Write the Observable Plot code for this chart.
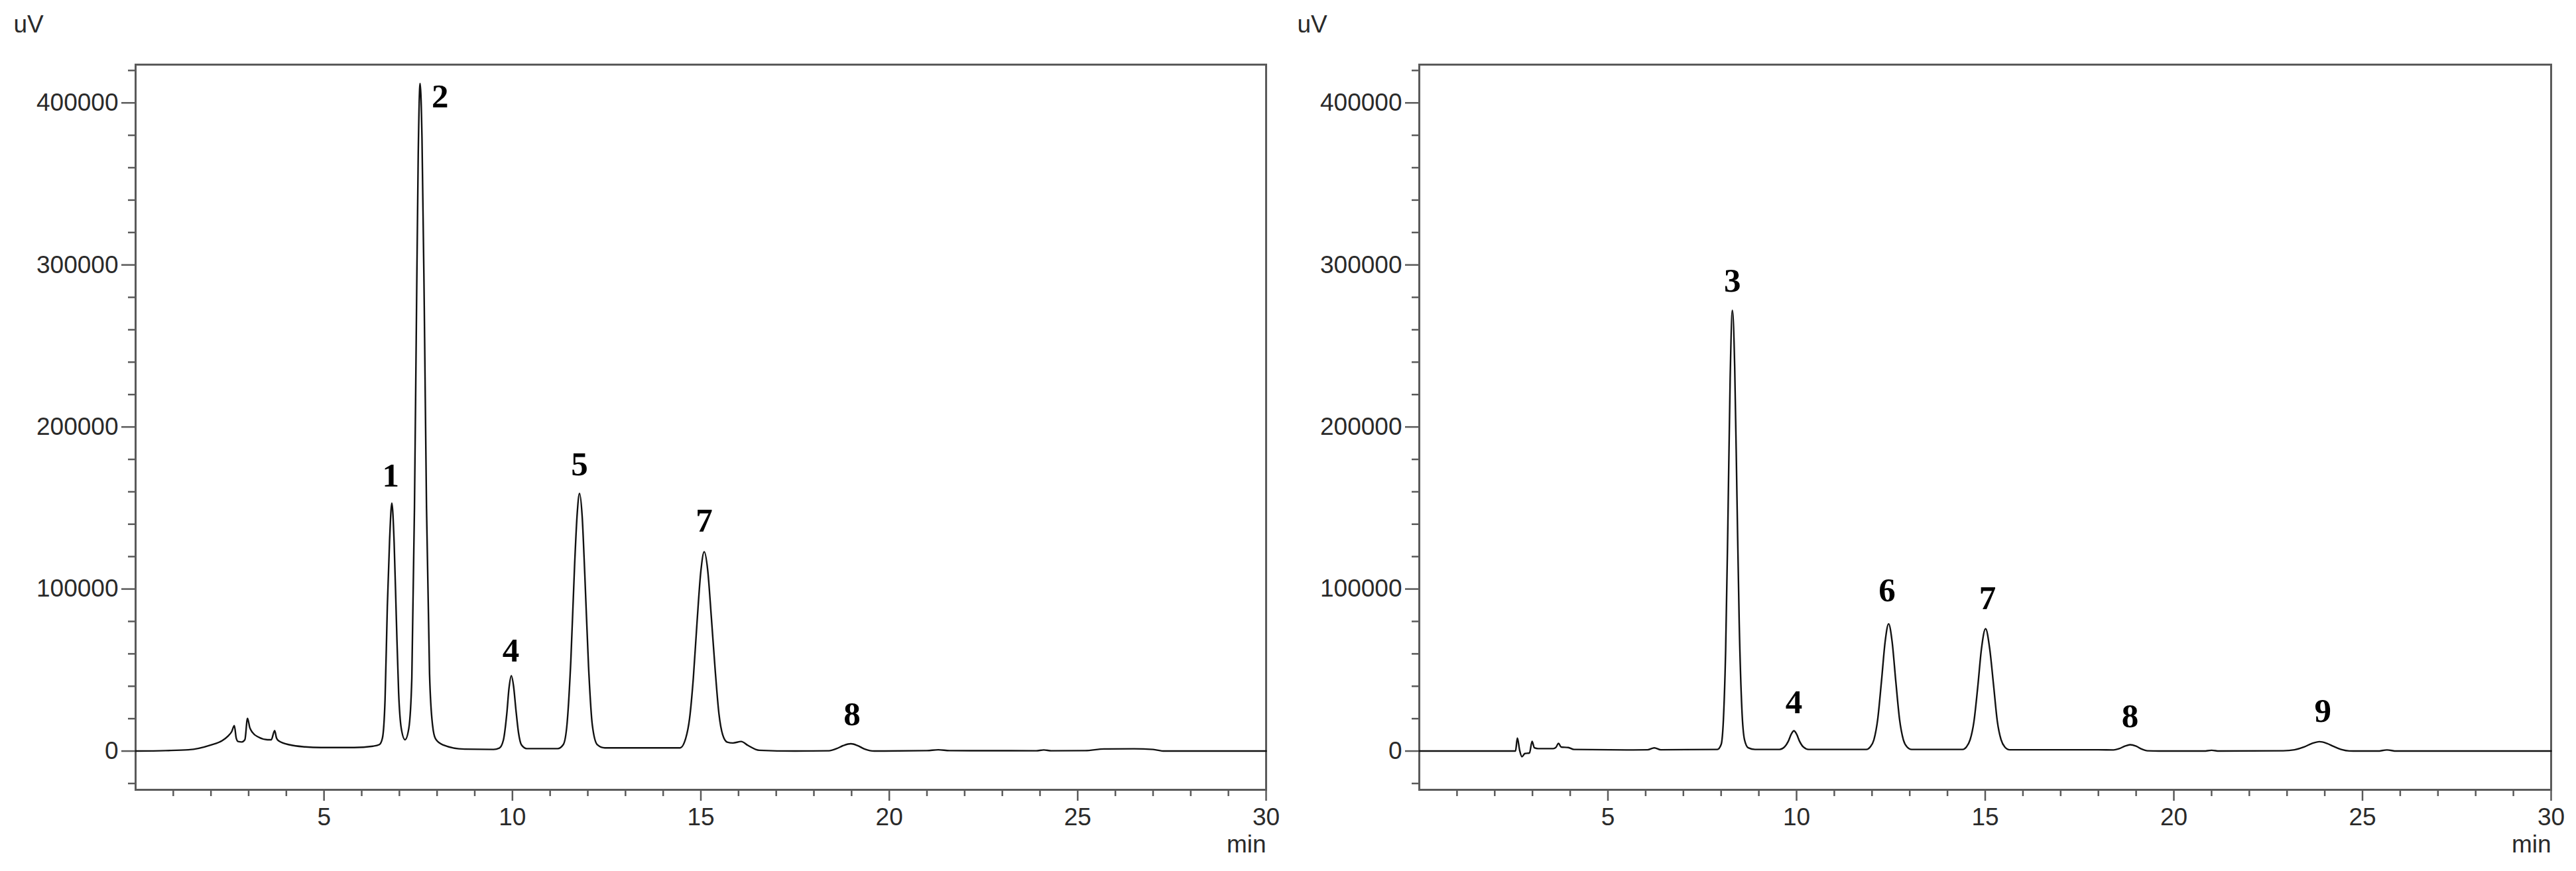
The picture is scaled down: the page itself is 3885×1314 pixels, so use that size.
<!DOCTYPE html>
<html>
<head>
<meta charset="utf-8">
<script src="https://cdn.jsdelivr.net/npm/d3@7"></script>
<script src="https://cdn.jsdelivr.net/npm/@observablehq/plot@0.6"></script>
<style>
  html, body { margin: 0; padding: 0; background: #fff; }
  #wrap { display: flex; width: 3885px; height: 1314px; background: #fff; }
  #wrap svg { display: block; }
</style>
</head>
<body>
<div id="wrap"></div>
<script>
// ---------- Data ----------
// Left chromatogram: retention time (min) and detector signal (uV)
const leftTime = [0.00, 0.80, 1.40, 2.00, 2.30, 2.45, 2.55, 2.62, 2.67, 2.72, 2.82, 2.90, 2.97, 3.03, 3.10, 3.27, 3.50, 3.60, 3.69, 3.74, 3.80, 4.10, 4.50, 4.92, 5.80, 6.30, 6.47, 6.55, 6.62, 6.68, 6.74, 6.80, 6.86, 6.92, 6.98, 7.05, 7.15, 7.25, 7.33, 7.40, 7.45, 7.50, 7.55, 7.60, 7.66, 7.72, 7.80, 7.88, 7.96, 8.15, 8.73, 9.50, 9.65, 9.76, 9.85, 9.91, 9.97, 10.03, 10.09, 10.16, 10.24, 10.38, 11.20, 11.35, 11.45, 11.55, 11.65, 11.72, 11.78, 11.85, 11.92, 12.02, 12.12, 12.25, 12.45, 14.45, 14.60, 14.70, 14.80, 14.90, 15.00, 15.09, 15.18, 15.28, 15.38, 15.48, 15.58, 15.70, 15.85, 16.07, 16.25, 16.55, 17.50, 18.40, 18.60, 18.80, 18.98, 19.15, 19.35, 19.60, 21.00, 21.30, 21.60, 23.90, 24.10, 24.30, 25.20, 25.70, 26.50, 27.00, 27.30, 30.00];
const leftSignal = [0, 300, 800, 3800, 6500, 9200, 12000, 15700, 8000, 5900, 5600, 7000, 20200, 14500, 11500, 8500, 7000, 7000, 12600, 8000, 6300, 3800, 2600, 2200, 2200, 3000, 4000, 8000, 32000, 89000, 130000, 153000, 129000, 81000, 36000, 14000, 7000, 14000, 45000, 150000, 262000, 368000, 412000, 378000, 275000, 150000, 48000, 16000, 7500, 3900, 1200, 1000, 1800, 6800, 23000, 39000, 46500, 40000, 26000, 11500, 3800, 1500, 1500, 4000, 17000, 56000, 115000, 147000, 159000, 145000, 109000, 52000, 16000, 4000, 2000, 2000, 8000, 20000, 45000, 80000, 111000, 123000, 112000, 82000, 50000, 23000, 10000, 5500, 5000, 5900, 3500, 500, 0, 200, 1500, 3600, 4500, 3500, 1200, 0, 300, 800, 300, 200, 700, 200, 300, 1300, 1400, 1000, 0, 0];

// Right chromatogram
const rightTime = [0.00, 2.55, 2.60, 2.66, 2.72, 2.80, 2.92, 2.99, 3.05, 3.15, 3.55, 3.62, 3.69, 3.76, 3.95, 4.10, 5.50, 6.05, 6.23, 6.40, 7.90, 8.00, 8.06, 8.12, 8.18, 8.24, 8.30, 8.36, 8.42, 8.48, 8.55, 8.62, 8.72, 8.90, 9.55, 9.68, 9.78, 9.86, 9.93, 10.00, 10.08, 10.18, 10.32, 11.85, 11.95, 12.05, 12.15, 12.25, 12.35, 12.44, 12.53, 12.63, 12.73, 12.83, 12.93, 13.05, 14.40, 14.50, 14.60, 14.70, 14.80, 14.90, 15.01, 15.12, 15.22, 15.32, 15.42, 15.52, 15.65, 18.00, 18.40, 18.55, 18.70, 18.84, 19.00, 19.15, 19.30, 19.60, 20.80, 21.00, 21.20, 22.90, 23.20, 23.45, 23.65, 23.86, 24.05, 24.25, 24.45, 24.65, 24.85, 25.40, 25.65, 25.90, 30.00];
const rightSignal = [0, 0, 8000, 500, -3500, -1500, -1200, 6000, 2000, 1500, 1500, 2200, 4800, 2500, 2200, 1000, 700, 800, 2000, 800, 1000, 4000, 19000, 62000, 141000, 230000, 272000, 237000, 157000, 79000, 26000, 7000, 2000, 1000, 1000, 2500, 6000, 10500, 12500, 10500, 6000, 2500, 1000, 1000, 2500, 7000, 19500, 43000, 68000, 78500, 68000, 43000, 19500, 7000, 2500, 1000, 1000, 2500, 7000, 18000, 39000, 63000, 75500, 63000, 41000, 18500, 7000, 2500, 800, 800, 700, 1500, 3000, 3900, 3000, 1200, 200, 0, 0, 500, 0, 200, 800, 2500, 4600, 5800, 4800, 2700, 900, 100, 0, 0, 700, 0, 0];

// Peak labels (number, time, signal of label anchor)
const leftPeakIds = ["1", "2", "4", "5", "7", "8"];
const leftPeakTime = [6.77, 8.08, 9.96, 11.78, 15.09, 19.01];
const leftPeakSignal = [170000, 404000, 62000, 177000, 142000, 22700];

const rightPeakIds = ["3", "4", "6", "7", "8", "9"];
const rightPeakTime = [8.30, 9.93, 12.40, 15.06, 18.84, 23.95];
const rightPeakSignal = [290000, 30000, 99000, 94400, 21500, 24900];

// Axis ticks
const yMajorTicks = [0, 100000, 200000, 300000, 400000];
const yMinorTicks = [-20000, 20000, 40000, 60000, 80000, 120000, 140000, 160000, 180000, 220000, 240000, 260000, 280000, 320000, 340000, 360000, 380000, 420000];
const xMajorTicks = [5, 10, 15, 20, 25, 30];
const xMinorTicks = [1, 2, 3, 4, 6, 7, 8, 9, 11, 12, 13, 14, 16, 17, 18, 19, 21, 22, 23, 24, 26, 27, 28, 29];
const yUnit = "uV";
const xUnit = "min";

// ---------- Drawing ----------
const axisColor = "#5a5a5a";
const textColor = "#2a2a2a";
const sansFont = "'Liberation Sans', Arial, Helvetica, sans-serif";
const serifFont = "'Liberation Serif', 'Times New Roman', serif";

function chromatogram(times, signals, ids, labelT, labelV, size) {
  const series = times.map((t, i) => ({t, v: signals[i]}));
  const labels = ids.map((id, i) => ({id, t: labelT[i], v: labelV[i]}));
  return Plot.plot({
    width: size.width,
    height: 1314,
    marginLeft: size.ml,
    marginRight: size.mr,
    marginTop: 97,
    marginBottom: 123,
    x: {domain: [0, 30]},
    y: {domain: [-23900, 423600]},
    style: {fontFamily: sansFont, fontSize: "37px", color: textColor, background: "#fff", overflow: "visible"},
    marks: [
      Plot.axisY({ticks: yMinorTicks, tickSize: 11, fill: "none", stroke: axisColor, strokeWidth: 2.5}),
      Plot.axisY({ticks: yMajorTicks, tickSize: 21, tickPadding: 5, tickFormat: d => String(d), label: null,
                  stroke: axisColor, strokeWidth: 2.5, fill: textColor, fontSize: 37}),
      Plot.axisX({ticks: xMinorTicks, tickSize: 10, fill: "none", stroke: axisColor, strokeWidth: 2.5}),
      Plot.axisX({ticks: xMajorTicks, tickSize: 17, tickPadding: 10, tickFormat: d => String(d), label: null,
                  stroke: axisColor, strokeWidth: 2.5, fill: textColor, fontSize: 37}),
      Plot.frame({stroke: axisColor, strokeWidth: 3}),
      Plot.line(series, {x: "t", y: "v", curve: "monotone-x", stroke: "#111", strokeWidth: 2.4}),
      Plot.text(labels, {x: "t", y: "v", text: "id", fontFamily: serifFont, fontWeight: "bold", fontSize: 51, fill: "#000"}),
      Plot.text([yUnit], {text: d => d, frameAnchor: "top-left", dx: -184, dy: -49, textAnchor: "start", lineAnchor: "bottom", fontSize: 37, fill: textColor}),
      Plot.text([xUnit], {text: d => d, frameAnchor: "bottom-right", dy: 94, textAnchor: "end", lineAnchor: "bottom", fontSize: 37, fill: textColor})
    ]
  });
}

const wrap = document.getElementById("wrap");
wrap.appendChild(chromatogram(leftTime, leftSignal, leftPeakIds, leftPeakTime, leftPeakSignal, {width: 1942, ml: 204, mr: 33}));
wrap.appendChild(chromatogram(rightTime, rightSignal, rightPeakIds, rightPeakTime, rightPeakSignal, {width: 1943, ml: 198, mr: 38}));
</script>
</body>
</html>
